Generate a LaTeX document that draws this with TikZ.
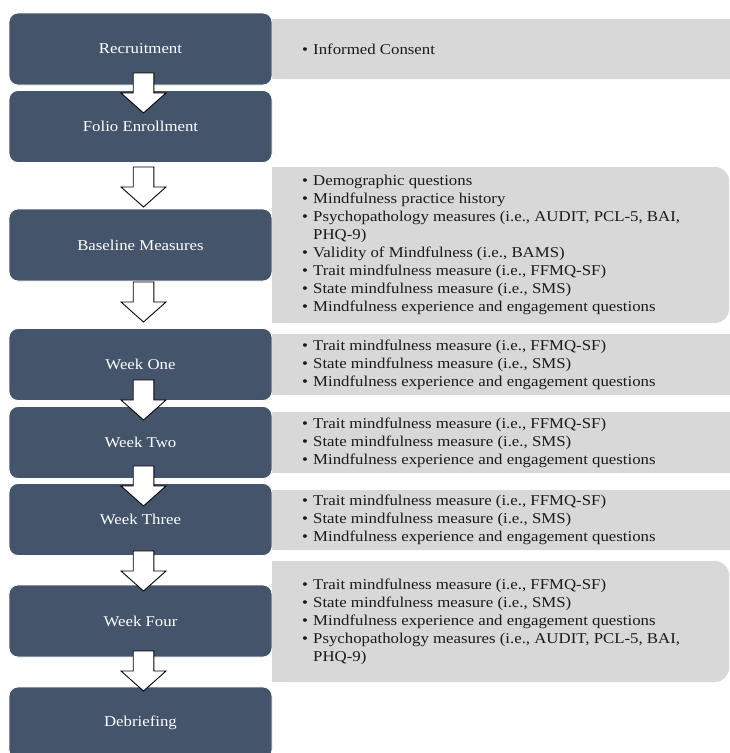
\documentclass[tikz,border=0pt]{standalone}
\usepackage{fontspec}
\setmainfont{Liberation Serif}[FakeStretch=1.12]
\definecolor{slate}{HTML}{44546A}
\definecolor{panel}{HTML}{D8D8D8}
\definecolor{ink}{HTML}{1A1A1A}
\newcommand\itm[1]{\makebox[11pt][l]{•}#1}
\newcommand\cont[1]{\hspace*{11pt}#1}
\begin{document}
\begin{tikzpicture}[x=1pt,y=-1pt,
  stage/.style={fill=slate, draw=white, line width=0.8pt, rounded corners=9pt,
    text=white, font=\fontsize{15}{18}\selectfont, minimum width=263pt,
    minimum height=72pt, inner sep=0pt},
  panelfill/.style={fill=panel},
  items/.style={anchor=west, align=left, text=ink, inner sep=0pt,
    font=\fontsize{15}{17.9}\selectfont},
  arrowbox/.style={draw=black, fill=white, line width=0.9pt, line join=miter},
  blockarrow/.pic={\draw[arrowbox] (-10.3,0) -- (10.3,0) -- (10.3,20) -- (22.5,20)
    -- (0,40) -- (-22.5,20) -- (-10.3,20) -- cycle;}
]
\useasboundingbox (0,0) rectangle (730,753);
\clip (0,0) rectangle (730,753);
\fill[white] (0,0) rectangle (730,753);

% grey panels (square left side, rounded right side)
\fill[panelfill, rounded corners=10pt] (272,19) rectangle (740,79);
\fill[panelfill] (272,19) rectangle (300,79);
\fill[panelfill, rounded corners=14pt] (272,167) rectangle (729,323);
\fill[panelfill] (272,167) rectangle (300,323);
\fill[panelfill, rounded corners=10pt] (272,334) rectangle (740,395);
\fill[panelfill] (272,334) rectangle (300,395);
\fill[panelfill, rounded corners=10pt] (272,412) rectangle (740,473);
\fill[panelfill] (272,412) rectangle (300,473);
\fill[panelfill, rounded corners=10pt] (272,490) rectangle (740,550);
\fill[panelfill] (272,490) rectangle (300,550);
\fill[panelfill, rounded corners=14pt] (272,561) rectangle (729,682);
\fill[panelfill] (272,561) rectangle (300,682);

% stages
\node[stage] (rec) at (140.5,49) {Recruitment};
\node[stage] (folio) at (140.5,126.5) {Folio Enrollment};
\node[stage] (base) at (140.5,245) {Baseline Measures};
\node[stage] (w1) at (140.5,364.5) {Week One};
\node[stage] (w2) at (140.5,442.5) {Week Two};
\node[stage] (w3) at (140.5,519.5) {Week Three};
\node[stage] (w4) at (140.5,621) {Week Four};
\node[stage] (deb) at (140.5,723) {Debriefing};

% item lists
\node[items] (recl) at (302,49) {\itm{Informed Consent}};
\node[items] (basel) at (302,245) {\itm{Demographic questions}\\
  \itm{Mindfulness practice history}\\
  \itm{Psychopathology measures (i.e., AUDIT, PCL-5, BAI,}\\
  \cont{PHQ-9)}\\
  \itm{Validity of Mindfulness (i.e., BAMS)}\\
  \itm{Trait mindfulness measure (i.e., FFMQ-SF)}\\
  \itm{State mindfulness measure (i.e., SMS)}\\
  \itm{Mindfulness experience and engagement questions}};
\node[items] (w1l) at (302,364.5) {\itm{Trait mindfulness measure (i.e., FFMQ-SF)}\\
  \itm{State mindfulness measure (i.e., SMS)}\\
  \itm{Mindfulness experience and engagement questions}};
\node[items] (w2l) at (302,442.5) {\itm{Trait mindfulness measure (i.e., FFMQ-SF)}\\
  \itm{State mindfulness measure (i.e., SMS)}\\
  \itm{Mindfulness experience and engagement questions}};
\node[items] (w3l) at (302,520) {\itm{Trait mindfulness measure (i.e., FFMQ-SF)}\\
  \itm{State mindfulness measure (i.e., SMS)}\\
  \itm{Mindfulness experience and engagement questions}};
\node[items] (w4l) at (302,622) {\itm{Trait mindfulness measure (i.e., FFMQ-SF)}\\
  \itm{State mindfulness measure (i.e., SMS)}\\
  \itm{Mindfulness experience and engagement questions}\\
  \itm{Psychopathology measures (i.e., AUDIT, PCL-5, BAI,}\\
  \cont{PHQ-9)}};

% block arrows
\coordinate (a1) at (143.5,73);
\coordinate (a2) at (143.5,167);
\coordinate (a3) at (143.5,282);
\coordinate (a4) at (143.5,380);
\coordinate (a5) at (143.5,466);
\coordinate (a6) at (143.5,551);
\coordinate (a7) at (143.5,651);
\foreach \a in {a1,a2,a3,a4,a5,a6,a7} { \pic at (\a) {blockarrow}; }
\end{tikzpicture}
\end{document}
